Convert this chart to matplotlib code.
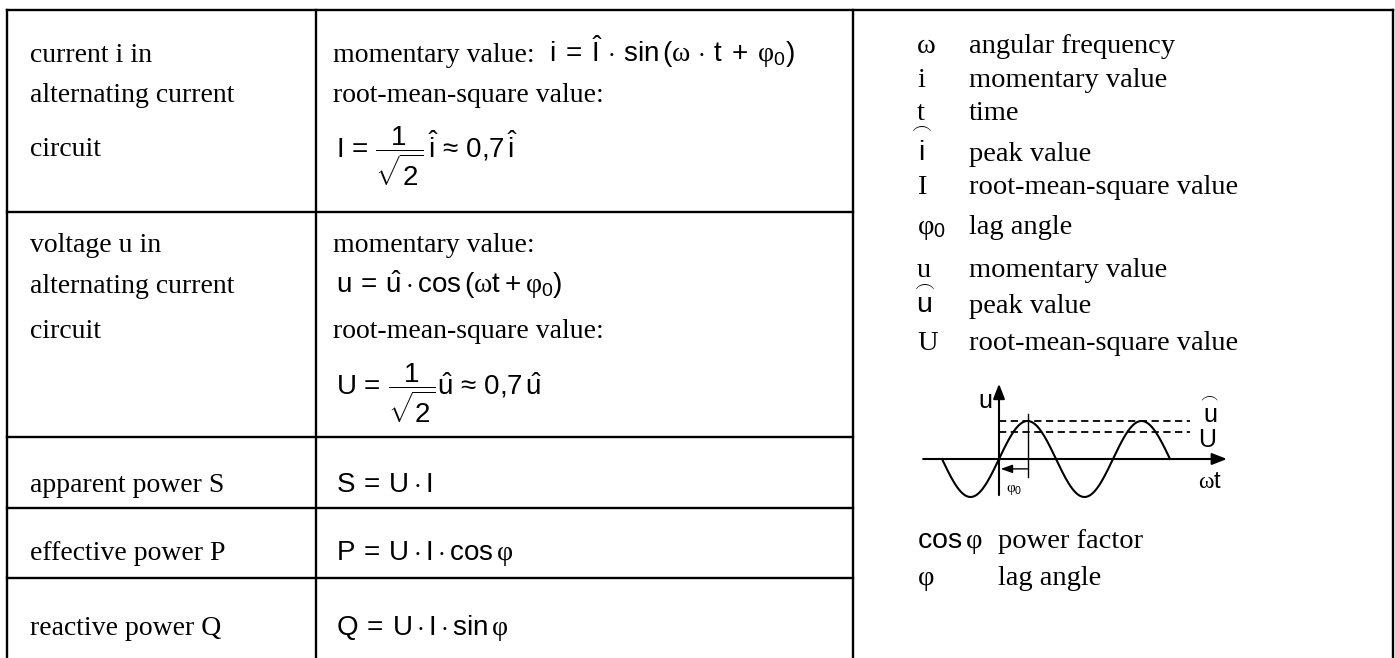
import numpy as np
import matplotlib
matplotlib.use("Agg")
import matplotlib.pyplot as plt

plt.rcParams['mathtext.fontset'] = 'custom'
plt.rcParams['mathtext.rm'] = 'Liberation Sans'
plt.rcParams['mathtext.it'] = 'Liberation Serif'
plt.rcParams['mathtext.cal'] = 'Liberation Serif'

SERIF = 'Liberation Serif'

# left column: name of the quantity, one list of lines per table row
quantities = [
    ["current i in", "alternating current", "circuit"],
    ["voltage u in", "alternating current", "circuit"],
    ["apparent power S"],
    ["effective power P"],
    ["reactive power Q"],
]

# middle column: (words, formula) for every line of a row
formulas = [
    [("momentary value:", r"$\mathrm{i}\;=\;\hat{\mathrm{I}}\,\cdot\,\mathrm{sin}\,(\omega\,\cdot\,\mathrm{t}\;+\;\varphi_0)$"),
     ("root-mean-square value:", None),
     (None, r"$\mathrm{I}\,=\,\dfrac{1}{\sqrt{2}}\,\hat{\mathrm{i}}\,\approx\,0{,}7\,\hat{\mathrm{i}}$")],
    [("momentary value:", None),
     (None, r"$\mathrm{u}\>=\>\hat{\mathrm{u}}\cdot\mathrm{cos}\,(\omega\mathrm{t}\>+\>\varphi_0)$"),
     ("root-mean-square value:", None),
     (None, r"$\mathrm{U}\,=\,\dfrac{1}{\sqrt{2}}\hat{\mathrm{u}}\,\approx\,0{,}7\,\hat{\mathrm{u}}$")],
    [(None, r"$\mathrm{S}\>=\>\mathrm{U}\cdot\mathrm{I}$")],
    [(None, r"$\mathrm{P}\>=\>\mathrm{U}\cdot\mathrm{I}\cdot\mathrm{cos}\,\varphi$")],
    [(None, r"$\mathrm{Q}\>=\>\mathrm{U}\cdot\mathrm{I}\cdot\mathrm{sin}\,\varphi$")],
]

# right column: symbol list
symbols = ["ω", "i", "t", r"$\overset{\frown}{\mathrm{i}}$", "I", r"$\varphi_0$",
           "u", r"$\overset{\frown}{\mathrm{u}}$", "U"]
meanings = ["angular frequency", "momentary value", "time", "peak value",
            "root-mean-square value", "lag angle", "momentary value",
            "peak value", "root-mean-square value"]
power_symbols = [r"$\mathrm{cos}\,\varphi$", r"$\varphi$"]
power_meanings = ["power factor", "lag angle"]

# sketch: one wave, peak 1, rms value, running from -pi to 3pi
peak = 1.0
rms = 0.7
wt_start, wt_end = -1.0, 3.0   # in units of pi
phi0 = 0.5                     # peak position, units of pi

# ---- layout (pixels) ----
W, H = 1395, 658
fig = plt.figure(figsize=(W / 100, H / 100), dpi=100)
ax = fig.add_axes([0, 0, 1, 1])
ax.set_xlim(0, W)
ax.set_ylim(H, 0)
ax.axis('off')

x_left, x_div1, x_div2, x_right = 7, 316, 853, 1393
y_top = 10
row_lines = [212, 437, 508, 578]
lw = 1.7

ax.plot([x_left, x_right], [y_top, y_top], color='black', lw=lw)
for x in (x_left, x_div1, x_div2, x_right):
    ax.plot([x, x], [y_top, H], color='black', lw=lw)
for y in row_lines:
    ax.plot([x_left, x_div2], [y, y], color='black', lw=lw)

fs = 20
fs_f = 20
name_base = [[62, 102, 156], [252, 293, 338], [492], [560], [635]]
form_base = [[62, 102, 158], [252, 293, 338, 395], [492], [560], [635]]

for lines, bases in zip(quantities, name_base):
    for s, yb in zip(lines, bases):
        ax.text(30, yb, s, family=SERIF, fontsize=fs, va='baseline')

renderer = fig.canvas.get_renderer()
for lines, bases in zip(formulas, form_base):
    for (words, f), yb in zip(lines, bases):
        xf = 336
        if words:
            t = ax.text(333, yb, words, family=SERIF, fontsize=fs, va='baseline')
            xf = t.get_window_extent(renderer).x1 + 14
        if f:
            ax.text(xf, yb, f, fontsize=fs_f, va='baseline')

fs_r = 20.5
sym_base = [53, 87, 120, 161, 194, 234, 277, 313, 350]
sym_dx = [0, 0, 0, -9, 0, 0, 0, -6, 0]
for s, m, yb, dx in zip(symbols, meanings, sym_base, sym_dx):
    ax.text(917 + dx, yb, s, family=SERIF, fontsize=fs_r, va='baseline')
    ax.text(969, yb, m, family=SERIF, fontsize=fs_r, va='baseline')
for s, m, yb in zip(power_symbols, power_meanings, [548, 585]):
    ax.text(917, yb, s, family=SERIF, fontsize=fs_r, va='baseline')
    ax.text(998, yb, m, family=SERIF, fontsize=fs_r, va='baseline')

# ---- sine sketch in its own axes: x in units of pi, y in units of peak ----
px_pi, px_amp = 57.0, 38.0
ox, oy = 999, 459
x0p, x1p, y0p, y1p = 905, 1240, 505, 375
axd = fig.add_axes([x0p / W, 1 - y0p / H, (x1p - x0p) / W, (y0p - y1p) / H])
axd.set_xlim((x0p - ox) / px_pi, (x1p - ox) / px_pi)
axd.set_ylim((oy - y0p) / px_amp, (oy - y1p) / px_amp)
axd.axis('off')
axd.patch.set_alpha(0)

wt = np.linspace(wt_start, wt_end, 400)
axd.plot(wt, peak * np.sin(np.pi * wt), color='black', lw=1.5)
ax_head = dict(arrowstyle='-|>,head_length=0.9,head_width=0.35', color='black', lw=1.5,
               shrinkA=0, shrinkB=0)
axd.annotate('', xy=(4.0, 0), xytext=(-1.33, 0), arrowprops=ax_head)
axd.annotate('', xy=(0, 1.98), xytext=(0, -0.95), arrowprops=ax_head)
for level in (peak, rms):
    axd.plot([0, 3.35], [level, level], color='black', lw=1.3, ls=(0, (4, 2.5)))
axd.plot([phi0, phi0], [-0.47, 1.18], color='black', lw=1.0)
axd.annotate('', xy=(0.03, -0.26), xytext=(phi0, -0.26),
             arrowprops=dict(arrowstyle='-|>,head_length=0.7,head_width=0.25',
                             color='black', lw=1.0, shrinkA=0, shrinkB=0))
axd.text(-0.36, 1.34, r'$\mathrm{u}$', fontsize=18, va='baseline')
axd.text(3.5, 0.95, r'$\overset{\frown}{\mathrm{u}}$', fontsize=18, va='baseline')
axd.text(3.5, 0.32, r'$\mathrm{U}$', fontsize=18, va='baseline')
axd.text(3.5, -0.76, r'$\omega\mathrm{t}$', fontsize=17, va='baseline')
axd.text(0.13, -0.87, r'$\varphi_0$', fontsize=11, va='baseline')

fig.savefig('out.png', dpi=100)
